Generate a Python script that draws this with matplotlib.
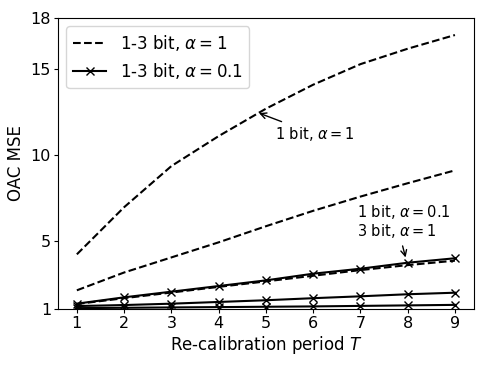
import matplotlib
matplotlib.use("Agg")
import matplotlib.pyplot as plt

T = [1, 2, 3, 4, 5, 6, 7, 8, 9]
# alpha = 1 (dashed)
mse_1bit_a1 = [4.2, 6.95, 9.35, 11.1, 12.7, 14.1, 15.3, 16.2, 17.0]
mse_2bit_a1 = [2.1, 3.14, 4.02, 4.9, 5.84, 6.74, 7.57, 8.35, 9.1]
mse_3bit_a1 = [1.3, 1.64, 1.97, 2.3, 2.62, 2.95, 3.28, 3.57, 3.83]
# alpha = 0.1 (solid, x markers)
mse_1bit_a01 = [1.32, 1.69, 2.02, 2.35, 2.68, 3.07, 3.36, 3.71, 3.97]
mse_2bit_a01 = [1.18, 1.24, 1.32, 1.42, 1.52, 1.64, 1.75, 1.87, 1.96]
mse_3bit_a01 = [1.06, 1.08, 1.1, 1.12, 1.14, 1.16, 1.19, 1.22, 1.25]

yticks = [1, 5, 10, 15, 18]

fig = plt.figure(figsize=(4.87, 3.65), dpi=100)
ax = fig.add_axes([0.119, 0.153, 0.854, 0.798])

ax.plot(T, mse_1bit_a1, 'k--', lw=1.5, label=r'1-3 bit, $\alpha = 1$')
ax.plot(T, mse_2bit_a1, 'k--', lw=1.5)
ax.plot(T, mse_3bit_a1, 'k--', lw=1.5)
ax.plot(T, mse_1bit_a01, 'k-', marker='x', ms=6, lw=1.5, label=r'1-3 bit, $\alpha = 0.1$')
ax.plot(T, mse_2bit_a01, 'k-', marker='x', ms=6, lw=1.5)
ax.plot(T, mse_3bit_a01, 'k-', marker='x', ms=6, lw=1.5)

ax.set_ylim(1, 18)
ax.set_xlim(0.6, 9.4)
ax.set_yticks(yticks)
ax.set_xticks(T)
ax.tick_params(labelsize=11.5, length=3, pad=2)
ax.set_xlabel(r'Re-calibration period $T$', fontsize=12, labelpad=2)
ax.set_ylabel('OAC MSE', fontsize=12, labelpad=4)

ax.annotate(r'1 bit, $\alpha = 1$', xy=(4.8, 12.5), xytext=(5.2, 11.2),
            fontsize=10.5, va='center', ha='left',
            arrowprops=dict(arrowstyle='->', color='k', lw=1))
ax.annotate('1 bit, $\\alpha = 0.1$\n3 bit, $\\alpha = 1$', xy=(7.97, 3.86), xytext=(6.93, 6.1),
            fontsize=10.5, va='center', ha='left', linespacing=1.1,
            arrowprops=dict(arrowstyle='->', color='k', lw=1, relpos=(0.47, 0.0)))

ax.legend(loc='upper left', fontsize=12, handlelength=2.0)

fig.savefig('out.png', dpi=100)
